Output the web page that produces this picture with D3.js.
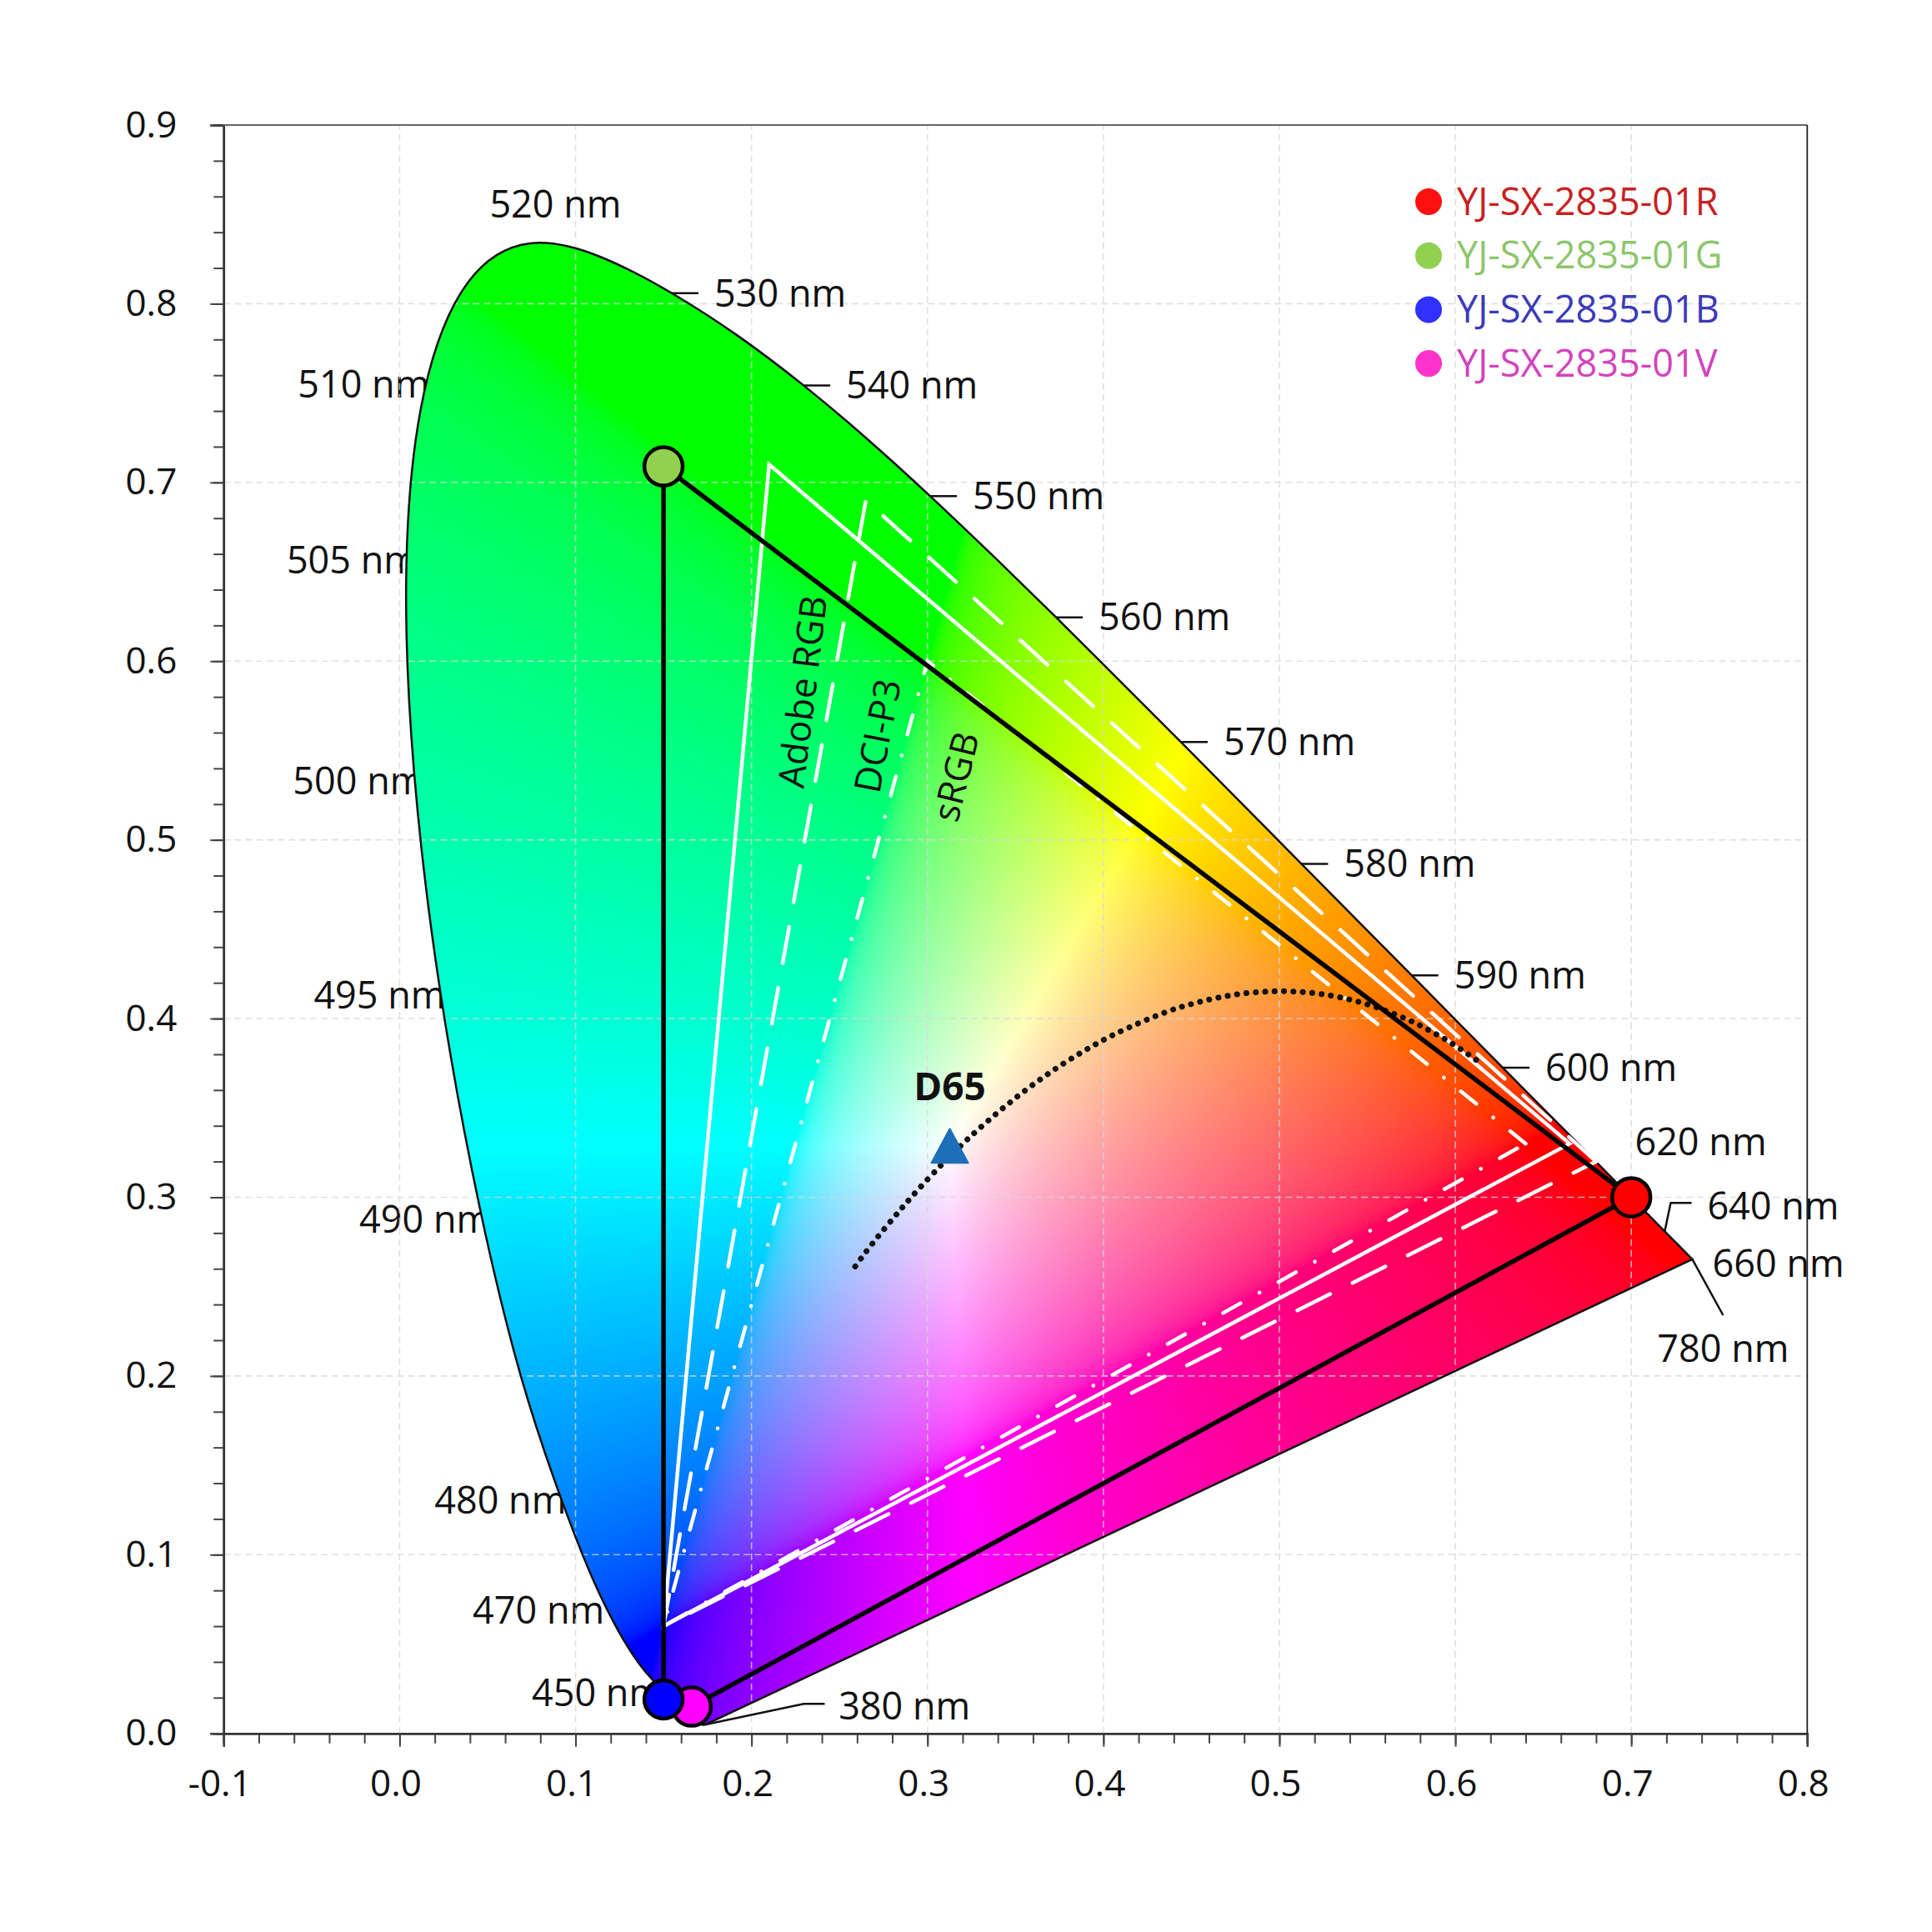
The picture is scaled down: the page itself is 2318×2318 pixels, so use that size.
<!DOCTYPE html>
<html><head><meta charset="utf-8">
<script src="https://cdn.jsdelivr.net/npm/d3@7"></script>
<style>
body{margin:0;background:#fff;}
text{font-family:"Open Sans","Noto Sans",sans-serif;fill:#111;}
</style>
</head><body>
<svg id="chart" width="2318" height="2318"></svg>
<script>
// ---------------- data ----------------
const xTicks = [-0.1, 0.0, 0.1, 0.2, 0.3, 0.4, 0.5, 0.6, 0.7, 0.8];
const xTickLabels = ["-0.1","0.0","0.1","0.2","0.3","0.4","0.5","0.6","0.7","0.8"];
const yTicks = [0.0, 0.1, 0.2, 0.3, 0.4, 0.5, 0.6, 0.7, 0.8, 0.9];
const yTickLabels = ["0.0","0.1","0.2","0.3","0.4","0.5","0.6","0.7","0.8","0.9"];

// CIE 1931 spectral locus
const locusWl = [380,385,390,395,400,405,410,415,420,425,430,435,440,445,450,455,460,465,470,475,480,485,490,495,500,505,510,515,520,525,530,535,540,545,550,555,560,565,570,575,580,585,590,595,600,605,610,615,620,625,630,635,640,645,650,655,660,665,670,675,680,685,690,780];
const locusX = [0.1741,0.1740,0.1738,0.1736,0.1733,0.1730,0.1726,0.1721,0.1714,0.1703,0.1689,0.1669,0.1644,0.1611,0.1566,0.1510,0.1440,0.1355,0.1241,0.1096,0.0913,0.0687,0.0454,0.0235,0.0082,0.0039,0.0139,0.0389,0.0743,0.1142,0.1547,0.1929,0.2296,0.2658,0.3016,0.3373,0.3731,0.4087,0.4441,0.4788,0.5125,0.5448,0.5752,0.6029,0.6270,0.6482,0.6658,0.6801,0.6915,0.7006,0.7079,0.7140,0.7190,0.7230,0.7260,0.7283,0.7300,0.7311,0.7320,0.7327,0.7334,0.7340,0.7344,0.7347];
const locusY = [0.0050,0.0050,0.0049,0.0049,0.0048,0.0048,0.0048,0.0048,0.0051,0.0058,0.0069,0.0086,0.0109,0.0138,0.0177,0.0227,0.0297,0.0399,0.0578,0.0868,0.1327,0.2007,0.2950,0.4127,0.5384,0.6548,0.7502,0.8120,0.8338,0.8262,0.8059,0.7816,0.7543,0.7243,0.6923,0.6589,0.6245,0.5896,0.5547,0.5202,0.4866,0.4544,0.4242,0.3965,0.3725,0.3514,0.3340,0.3197,0.3083,0.2993,0.2920,0.2859,0.2809,0.2770,0.2740,0.2717,0.2700,0.2689,0.2680,0.2673,0.2666,0.2660,0.2656,0.2653];

// wavelength labels with a short tick on the right side
const tickedWl = [530,540,550,560,570,580,590,600];
// wavelength labels on the left side (text start position, data coords)
const leftWlLabels = ["510 nm","505 nm","500 nm","495 nm","490 nm","480 nm","470 nm","450 nm"];
const leftWlX = [-0.0579,-0.0642,-0.0607,-0.0488,-0.0229,0.0198,0.0415,0.0751];
const leftWlY = [0.755,0.6563,0.5329,0.4129,0.2874,0.1302,0.0688,0.0226];

// gamut triangles (R, G, B) as drawn in the picture
const gamutNames = ["Adobe RGB","DCI-P3","sRGB"];
const adobeRGB = [[0.665,0.33],[0.21,0.71],[0.15,0.06]];
const dciP3 = [[0.68,0.32],[0.265,0.69],[0.15,0.06]];
const sRGBgamut = [[0.64,0.33],[0.30,0.60],[0.15,0.06]];
const gamutLabelX = [0.2291,0.2717,0.3162];
const gamutLabelY = [0.5829,0.5582,0.5353];

// Planckian locus
const planckX = [0.6118,0.5985,0.5857,0.5732,0.5492,0.5267,0.5056,0.4862,0.4683,0.4518,0.4369,0.4053,0.3805,0.3608,0.3451,0.3325,0.3221,0.3135,0.3064,0.2952,0.2869,0.2807,0.2719,0.2637,0.2580];
const planckY = [0.3769,0.3858,0.3931,0.3993,0.4082,0.4133,0.4152,0.4147,0.4123,0.4086,0.4041,0.3907,0.3768,0.3636,0.3516,0.3411,0.3318,0.3237,0.3166,0.3048,0.2956,0.2884,0.2780,0.2677,0.2600];

// D65 white point
const d65 = [0.3127, 0.3290];

// measured LED points
const seriesNames = ["YJ-SX-2835-01R","YJ-SX-2835-01G","YJ-SX-2835-01B","YJ-SX-2835-01V"];
const seriesX = [0.700, 0.150, 0.150, 0.166];
const seriesY = [0.300, 0.709, 0.019, 0.015];
const seriesFill = ["#ff0000","#92d050","#0000ff","#ff00ff"];
const legendDot = ["#ff1010","#92d050","#3030ff","#ff33cc"];
const legendText = ["#c82020","#8dc66b","#3a3ab8","#d243bd"];

// ---------------- chart ----------------
const svg = d3.select("#chart");
const x = d3.scaleLinear().domain([-0.1, 0.8]).range([268.3, 2168.3]);
const y = d3.scaleLinear().domain([0, 0.9]).range([2079.7, 150]);
const locus = locusWl.map((w,i)=>[locusX[i], locusY[i], w]);
const pt = w => locus.find(d=>d[2]===w);
const FS = 45;

svg.append("rect").attr("width",2318).attr("height",2318).attr("fill","#fff");

// left labels (under the fill)
const gLeft = svg.append("g");
leftWlLabels.forEach((t,i)=>{
  gLeft.append("text").attr("x", x(leftWlX[i])).attr("y", y(leftWlY[i])).attr("dy","0.35em")
    .attr("font-size",FS).text(t);
});

// colour fill
const defs = svg.append("defs");
const lineGen = d3.line().x(d=>x(d[0])).y(d=>y(d[1])).curve(d3.curveNatural);
const locusPath = lineGen(locus) + "Z";
defs.append("clipPath").attr("id","locusClip").append("path").attr("d", locusPath);

function toSRGB(v){ return v <= 0.0031308 ? 12.92*v : 1.055*Math.pow(v,1/2.4) - 0.055; }
(function(){
  const px0 = Math.floor(x(-0.01)), px1 = Math.ceil(x(0.745));
  const py0 = Math.floor(y(0.845)), py1 = Math.ceil(y(0));
  const w = px1 - px0, h = py1 - py0;
  const cv = document.createElement("canvas");
  cv.width = w; cv.height = h;
  const ctx = cv.getContext("2d");
  const im = ctx.createImageData(w, h);
  const data = im.data;
  for (let j=0;j<h;j++){
    let cy = y.invert(py0 + j + 0.5);
    if (cy < 0.002) cy = 0.002;
    for (let i=0;i<w;i++){
      const cx = x.invert(px0 + i + 0.5);
      const X = cx/cy, Y = 1, Z = (1-cx-cy)/cy;
      let r = 3.2406*X - 1.5372*Y - 0.4986*Z;
      let g = -0.9689*X + 1.8758*Y + 0.0415*Z;
      let b = 0.0557*X - 0.2040*Y + 1.0570*Z;
      r = Math.max(0,r); g = Math.max(0,g); b = Math.max(0,b);
      const m = Math.max(r,g,b) || 1;
      const k = (j*w+i)*4;
      data[k] = Math.round(255*toSRGB(r/m));
      data[k+1] = Math.round(255*toSRGB(g/m));
      data[k+2] = Math.round(255*toSRGB(b/m));
      data[k+3] = 255;
    }
  }
  ctx.putImageData(im,0,0);
  svg.append("image").attr("x",px0).attr("y",py0).attr("width",w).attr("height",h)
    .attr("preserveAspectRatio","none").attr("clip-path","url(#locusClip)")
    .attr("href", cv.toDataURL("image/png"));
})();

// grid
const grid = svg.append("g").attr("stroke","#d8d8d8").attr("stroke-width",1.6)
  .attr("stroke-dasharray","8,5").attr("opacity",0.75);
xTicks.filter(v=>v>-0.1 && v<0.8).forEach(v=>{
  grid.append("line").attr("x1",x(v)).attr("x2",x(v)).attr("y1",y(0)).attr("y2",y(0.9));
});
yTicks.filter(v=>v>0 && v<0.9).forEach(v=>{
  grid.append("line").attr("y1",y(v)).attr("y2",y(v)).attr("x1",x(-0.1)).attr("x2",x(0.8));
});

// locus outline
svg.append("path").attr("d",locusPath).attr("fill","none").attr("stroke","#111").attr("stroke-width",2.5);

// gamut triangles
const tri = d3.line().x(d=>x(d[0])).y(d=>y(d[1]));
const gG = svg.append("g").attr("fill","none").attr("stroke","#fff").attr("stroke-width",4.5);
gG.append("path").attr("d", tri(adobeRGB)+"Z").attr("stroke-linejoin","miter");
gG.append("path").attr("d", tri(dciP3)+"Z").attr("stroke-dasharray","44,30").attr("stroke-linecap","round");
gG.append("path").attr("d", tri(sRGBgamut)+"Z").attr("stroke-dasharray","24,26,0.1,26").attr("stroke-linecap","round");

const rot = [-83,-79,-76];
gamutNames.forEach((t,i)=>{
  const cx = x(gamutLabelX[i]), cy = y(gamutLabelY[i]);
  svg.append("text").attr("transform",`translate(${cx},${cy}) rotate(${rot[i]})`)
    .attr("text-anchor","middle").attr("dy","0.35em").attr("font-size",44).text(t);
});

// Planckian locus
const pl = planckX.map((v,i)=>[v, planckY[i]]);
svg.append("path").attr("d", d3.line().x(d=>x(d[0])).y(d=>y(d[1])).curve(d3.curveCatmullRom)(pl))
  .attr("fill","none").attr("stroke","#111").attr("stroke-width",7)
  .attr("stroke-linecap","round").attr("stroke-dasharray","0.1,11.2");

// device gamut lines
const S = seriesX.map((v,i)=>[v, seriesY[i]]);
svg.append("path").attr("d", tri([S[2],S[1],S[0],S[3]])).attr("fill","none")
  .attr("stroke","#000").attr("stroke-width",5.5).attr("stroke-linejoin","round");

// D65 marker
(function(){
  const cx = x(d65[0]), cy = y(d65[1]);
  svg.append("path").attr("d",`M${cx},${cy-20}L${cx+22},${cy+21}L${cx-22},${cy+21}Z`)
    .attr("fill","#1c6fb8").attr("stroke","#1c6fb8").attr("stroke-width",2).attr("stroke-linejoin","round");
  svg.append("text").attr("x",cx).attr("y",cy-54).attr("text-anchor","middle")
    .attr("font-size",46).attr("font-weight","bold").text("D65");
})();

// points
[3,0,1,2].forEach(i=>{
  const d = S[i];
  svg.append("circle").attr("cx",x(d[0])).attr("cy",y(d[1])).attr("r",23)
    .attr("fill",seriesFill[i]).attr("stroke","#000").attr("stroke-width",4.5);
});

// right-side wavelength labels
const gR = svg.append("g");
tickedWl.forEach(w=>{
  const p = pt(w), px = x(p[0]), py = y(p[1]);
  gR.append("line").attr("x1",px).attr("x2",px+32).attr("y1",py).attr("y2",py)
    .attr("stroke","#111").attr("stroke-width",2.5);
  gR.append("text").attr("x",px+51).attr("y",py).attr("dy","0.35em").attr("font-size",FS).text(w+" nm");
});
// 520 nm
gR.append("text").attr("x",x(0.0886)).attr("y",y(0.8557)).attr("dy","0.35em")
  .attr("text-anchor","middle").attr("font-size",FS).text("520 nm");
// 620 nm
gR.append("text").attr("x",x(0.7020)).attr("y",y(0.331)).attr("dy","0.35em").attr("font-size",FS).text("620 nm");
// 640 nm with elbow leader
(function(){
  const p = pt(640);
  gR.append("path").attr("d",`M${x(p[0])},${y(p[1])}L${x(0.7224)},${y(0.2968)}L${x(0.7343)},${y(0.2968)}`)
    .attr("fill","none").attr("stroke","#111").attr("stroke-width",2.5);
  gR.append("text").attr("x",x(0.7432)).attr("y",y(0.2952)).attr("dy","0.35em").attr("font-size",FS).text("640 nm");
})();
// 660 nm
gR.append("text").attr("x",x(0.7461)).attr("y",y(0.2626)).attr("dy","0.35em").attr("font-size",FS).text("660 nm");
// 780 nm
(function(){
  const p = pt(780);
  gR.append("line").attr("x1",x(p[0])).attr("y1",y(p[1])).attr("x2",x(0.7522)).attr("y2",y(0.234))
    .attr("stroke","#111").attr("stroke-width",2.5);
  gR.append("text").attr("x",x(0.7522)).attr("y",y(0.2153)).attr("dy","0.35em")
    .attr("text-anchor","middle").attr("font-size",FS).text("780 nm");
})();
// 380 nm
(function(){
  const p = pt(380);
  gR.append("path").attr("d",`M${x(p[0])},${y(p[1])}L${x(0.2297)},${y(0.0165)}L${x(0.2416)},${y(0.0165)}`)
    .attr("fill","none").attr("stroke","#111").attr("stroke-width",2.5);
  gR.append("text").attr("x",x(0.2495)).attr("y",y(0.0150)).attr("dy","0.35em").attr("font-size",FS).text("380 nm");
})();

// axes
const minorX = d3.range(-0.1, 0.8001, 0.02);
const minorY = d3.range(0, 0.9001, 0.02);
const gx = svg.append("g").attr("transform",`translate(0,${y(0)})`)
  .call(d3.axisBottom(x).tickValues(minorX).tickSize(12).tickFormat(""));
const gx2 = svg.append("g").attr("transform",`translate(0,${y(0)})`)
  .call(d3.axisBottom(x).tickValues(xTicks).tickSize(16).tickPadding(28).tickFormat((d,i)=>xTickLabels[i]));
const gy = svg.append("g").attr("transform",`translate(${x(-0.1)},0)`)
  .call(d3.axisLeft(y).tickValues(minorY).tickSize(12).tickFormat(""));
const gy2 = svg.append("g").attr("transform",`translate(${x(-0.1)},0)`)
  .call(d3.axisLeft(y).tickValues(yTicks).tickSize(16).tickPadding(40).tickFormat((d,i)=>yTickLabels[i]));
[gx,gx2,gy,gy2].forEach(g=>{
  g.selectAll(".domain").attr("stroke","#333").attr("stroke-width",2.5);
  g.selectAll(".tick line").attr("stroke","#444").attr("stroke-width",2);
  g.selectAll("text").attr("font-size",44).attr("font-family","'Open Sans',sans-serif").attr("fill","#111");
});
gx2.selectAll("text").attr("dx",-5);
// top & right frame
svg.append("line").attr("x1",x(-0.1)).attr("x2",x(0.8)).attr("y1",y(0.9)).attr("y2",y(0.9))
  .attr("stroke","#666").attr("stroke-width",2);
svg.append("line").attr("x1",x(0.8)).attr("x2",x(0.8)).attr("y1",y(0.9)).attr("y2",y(0))
  .attr("stroke","#222").attr("stroke-width",1.8);

// legend
const lg = svg.append("g");
seriesNames.forEach((n,i)=>{
  lg.append("circle").attr("cx",1714).attr("cy",242+i*64.7).attr("r",16).attr("fill",legendDot[i]);
  lg.append("text").attr("x",1748).attr("y",242+i*64.7).attr("dy","0.35em").attr("font-size",FS)
    .style("fill",legendText[i]).text(n);
});
</script>
</body></html>
